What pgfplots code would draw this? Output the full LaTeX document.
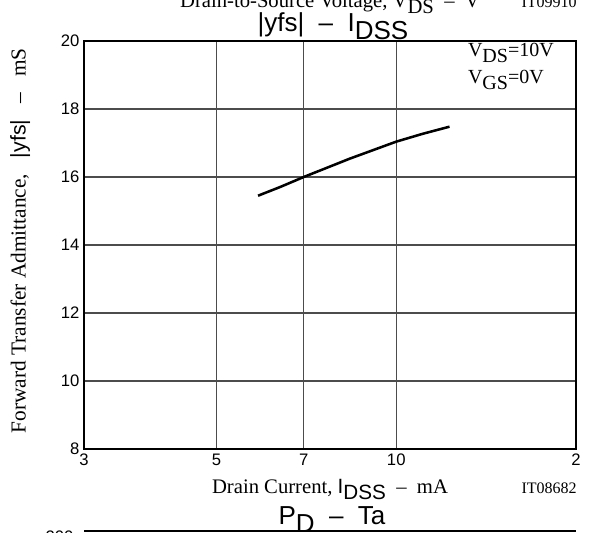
\documentclass[border=0pt]{standalone}
\usepackage{fontspec}
\setmainfont{Liberation Serif}
\setsansfont{Liberation Sans}
\usepackage{pgfplots}
\usepackage{pgfplotstable}
\pgfplotsset{compat=1.18}
\usetikzlibrary{calc}

% |yfs| vs IDSS
\pgfplotstableread{
x y
5.87 15.45
6.40 15.71
7.00 16.00
8.36 16.54
10.00 17.04
11.07 17.27
12.28 17.48
}\yfsdata

\newcommand{\lab}{\fontsize{15.5}{18}\selectfont}
\newcommand{\ttl}{\sffamily\fontsize{19.5}{22}\selectfont}
\newcommand{\sub}[1]{\raisebox{-0.3em}{#1}}

\begin{document}
\begin{tikzpicture}
\begin{axis}[
    name=ax,
    scale only axis,
    width=369pt, height=306pt,
    xmode=log,
    xmin=3, xmax=20,
    ymin=8, ymax=20,
    xtick={3,5,7,10,20},
    xticklabels={3,5,7,\raisebox{-4.5pt}{10},2},
    ytick={8,10,12,14,16,18,20},
    log ticks with fixed point,
    xmajorgrids, ymajorgrids,
    major grid style={black!70, line width=0.8pt},
    major tick length=0pt,
    minor tick num=0,
    axis line style={black, line width=1.1pt},
    tick label style={font=\sffamily\fontsize{12.5}{14}\selectfont},
    /pgf/number format/assume math mode=true,
    clip=false,
]
\addplot[black, line width=1.9pt] table[x=x, y=y] {\yfsdata};

% texts round the axis
\node[anchor=base] at (axis description cs:0.506,1.024)
    {\ttl |yfs|\ \ –\ \ I\sub{DSS}};
\node[anchor=base] at (axis description cs:0.50,1.083)
    {\lab Drain-to-Source Voltage, V\sub{DS}\ \ –\ \ V};
\node[anchor=base east, inner sep=0pt] at (axis description cs:1.002,1.083)
    {\fontsize{12}{14}\selectfont IT09910};
\node[anchor=base west, inner sep=0pt] at (axis description cs:0.780,0.961)
    {\fontsize{15}{18}\selectfont V\sub{DS}=10V};
\node[anchor=base west, inner sep=0pt] at (axis description cs:0.780,0.895)
    {\fontsize{15}{18}\selectfont V\sub{GS}=0V};
\node[anchor=base] at (axis description cs:0.5,-0.108)
    {\lab Drain Current, {\sffamily I\sub{DSS}}\ \ –\ \ mA};
\node[anchor=base east, inner sep=0pt] at (axis description cs:1.002,-0.108)
    {\fontsize{12}{14}\selectfont IT08682};
\node[rotate=90] at (axis description cs:-0.130,0.51)
    {\fontsize{16}{18}\selectfont Forward Transfer Admittance,\ \ \ {\sffamily |yfs|}\ \ \ –\ \ \ mS};

% the next chart starts just below
\node[anchor=base] at (axis description cs:0.504,-0.186)
    {\ttl P\sub{D}\ \ –\ \ Ta};
\node[anchor=base east, font=\sffamily\fontsize{12.5}{14}\selectfont] at (axis description cs:-0.012,-0.228) {200};
\draw[black, line width=1.1pt] (axis description cs:0,-0.201) -- (axis description cs:1,-0.201);
\end{axis}
\pgfresetboundingbox
\path ($(ax.south west)+(-63pt,-62.25pt)$) rectangle ($(ax.north east)+(14.25pt,30.75pt)$);
\end{tikzpicture}
\end{document}
